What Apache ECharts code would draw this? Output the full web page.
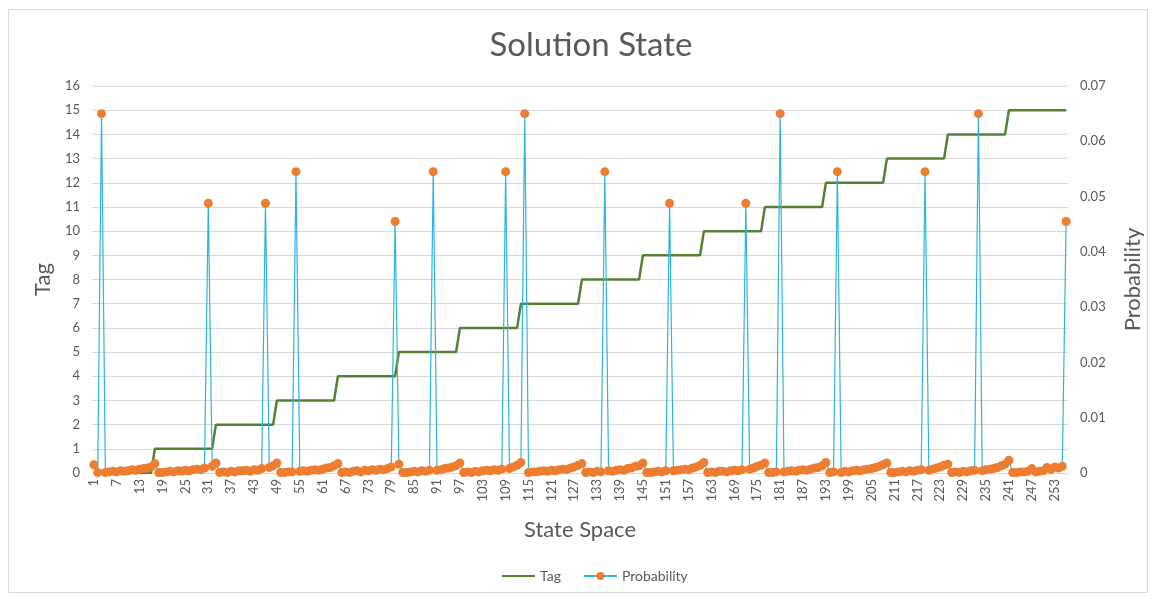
<!DOCTYPE html>
<html>
<head>
<meta charset="utf-8">
<title>Solution State</title>
<script src="https://cdn.jsdelivr.net/npm/echarts@6/dist/echarts.min.js"></script>
<style>
  html, body { margin: 0; padding: 0; background: #fff; }
  #chart { width: 1156px; height: 600px; }
</style>
</head>
<body>
<div id="chart"></div>
<script>
// state space 1..256
const states = [];
for (let i = 1; i <= 256; i++) states.push(String(i));

// tag level for each state (16 states per tag)
const tag = [
  0,0,0,0,0,0,0,0,0,0,0,0,0,0,0,0,
  1,1,1,1,1,1,1,1,1,1,1,1,1,1,1,1,
  2,2,2,2,2,2,2,2,2,2,2,2,2,2,2,2,
  3,3,3,3,3,3,3,3,3,3,3,3,3,3,3,3,
  4,4,4,4,4,4,4,4,4,4,4,4,4,4,4,4,
  5,5,5,5,5,5,5,5,5,5,5,5,5,5,5,5,
  6,6,6,6,6,6,6,6,6,6,6,6,6,6,6,6,
  7,7,7,7,7,7,7,7,7,7,7,7,7,7,7,7,
  8,8,8,8,8,8,8,8,8,8,8,8,8,8,8,8,
  9,9,9,9,9,9,9,9,9,9,9,9,9,9,9,9,
  10,10,10,10,10,10,10,10,10,10,10,10,10,10,10,10,
  11,11,11,11,11,11,11,11,11,11,11,11,11,11,11,11,
  12,12,12,12,12,12,12,12,12,12,12,12,12,12,12,12,
  13,13,13,13,13,13,13,13,13,13,13,13,13,13,13,13,
  14,14,14,14,14,14,14,14,14,14,14,14,14,14,14,14,
  15,15,15,15,15,15,15,15,15,15,15,15,15,15,15,15
];

// probability of each state
const probability = [
  0.0015,0.0001,0.0650,0.0001,0.0002,0.0003,0.0002,0.0004,0.0003,0.0004,0.0006,0.0005,0.0007,0.0008,0.0009,0.0011,
  0.0017,0.0001,0.0001,0.0002,0.0003,0.0002,0.0004,0.0003,0.0005,0.0004,0.0006,0.0007,0.0006,0.0009,0.0488,0.0012,
  0.0018,0.0001,0.0002,0.0001,0.0003,0.0002,0.0004,0.0004,0.0005,0.0003,0.0006,0.0005,0.0008,0.0488,0.0010,0.0013,
  0.0018,0.0001,0.0001,0.0002,0.0002,0.0545,0.0003,0.0004,0.0003,0.0005,0.0006,0.0005,0.0007,0.0009,0.0010,0.0013,
  0.0017,0.0001,0.0002,0.0001,0.0003,0.0004,0.0002,0.0005,0.0004,0.0006,0.0005,0.0007,0.0006,0.0008,0.0011,0.0455,
  0.0016,0.0001,0.0001,0.0002,0.0003,0.0002,0.0004,0.0003,0.0005,0.0545,0.0005,0.0006,0.0008,0.0009,0.0011,0.0013,
  0.0018,0.0001,0.0002,0.0001,0.0003,0.0002,0.0004,0.0005,0.0004,0.0006,0.0005,0.0007,0.0545,0.0008,0.0011,0.0014,
  0.0019,0.0650,0.0001,0.0002,0.0002,0.0003,0.0004,0.0003,0.0005,0.0004,0.0006,0.0007,0.0006,0.0009,0.0011,0.0014,
  0.0017,0.0001,0.0002,0.0001,0.0003,0.0002,0.0545,0.0004,0.0003,0.0005,0.0006,0.0005,0.0008,0.0009,0.0012,0.0013,
  0.0018,0.0001,0.0001,0.0002,0.0003,0.0002,0.0004,0.0488,0.0004,0.0005,0.0006,0.0007,0.0006,0.0009,0.0011,0.0014,
  0.0019,0.0001,0.0002,0.0001,0.0003,0.0003,0.0002,0.0004,0.0005,0.0004,0.0006,0.0488,0.0007,0.0009,0.0012,0.0014,
  0.0018,0.0001,0.0001,0.0002,0.0650,0.0002,0.0003,0.0004,0.0003,0.0005,0.0006,0.0005,0.0007,0.0009,0.0010,0.0013,
  0.0019,0.0001,0.0002,0.0545,0.0001,0.0003,0.0002,0.0004,0.0005,0.0004,0.0006,0.0007,0.0008,0.0010,0.0012,0.0015,
  0.0018,0.0001,0.0001,0.0002,0.0003,0.0002,0.0004,0.0003,0.0005,0.0006,0.0545,0.0005,0.0007,0.0009,0.0011,0.0014,
  0.0016,0.0001,0.0002,0.0001,0.0003,0.0002,0.0004,0.0005,0.0650,0.0004,0.0006,0.0007,0.0008,0.0010,0.0013,0.0016,
  0.0023,0.0001,0.0001,0.0002,0.0002,0.0003,0.0008,0.0002,0.0003,0.0004,0.0010,0.0006,0.0011,0.0009,0.0012,0.0455
];

const textColor = '#595959';
const font = 'Lato, "Open Sans", sans-serif';

const chart = echarts.init(document.getElementById('chart'), null, { renderer: 'canvas' });

const option = {
  animation: false,
  textStyle: { fontFamily: font },
  graphic: [{
    type: 'rect',
    shape: { x: 8.5, y: 9.5, width: 1139, height: 583 },
    style: { fill: 'none', stroke: '#d9d9d9', lineWidth: 1 },
    silent: true
  }],
  title: {
    text: 'Solution State',
    left: 586,
    textAlign: 'center',
    top: 24,
    textStyle: { fontSize: 33, fontWeight: 'normal', color: textColor, fontFamily: font }
  },
  legend: {
    bottom: 12,
    left: 496,
    itemWidth: 33,
    itemHeight: 10,
    itemGap: 22,
    textStyle: { fontSize: 14, color: textColor, fontFamily: font },
    data: [
      { name: 'Tag', itemStyle: { opacity: 0 } },
      { name: 'Probability' }
    ]
  },
  grid: { left: 92, right: 88, top: 86, bottom: 127 },
  xAxis: {
    type: 'category',
    data: states,
    boundaryGap: true,
    name: 'State Space',
    nameLocation: 'middle',
    nameGap: 46,
    nameTextStyle: { fontSize: 22, color: textColor },
    axisTick: { show: false },
    axisLine: { lineStyle: { color: '#d9d9d9' } },
    axisLabel: { interval: 5, rotate: 90, fontSize: 13, color: textColor, margin: 6 }
  },
  yAxis: [
    {
      type: 'value',
      min: 0,
      max: 16,
      interval: 1,
      name: 'Tag',
      nameLocation: 'middle',
      nameRotate: 90,
      nameGap: 36,
      nameTextStyle: { fontSize: 22, color: textColor },
      axisLine: { show: false },
      axisTick: { show: false },
      axisLabel: { fontSize: 13, color: textColor, margin: 12 },
      splitLine: { lineStyle: { color: '#d9d9d9' } }
    },
    {
      type: 'value',
      min: 0,
      max: 0.07,
      interval: 0.01,
      name: 'Probability',
      nameLocation: 'middle',
      nameRotate: 90,
      nameGap: 54,
      nameTextStyle: { fontSize: 22, color: textColor },
      axisLine: { show: false },
      axisTick: { show: false },
      axisLabel: {
        fontSize: 13, color: textColor, margin: 12,
        formatter: v => v === 0 ? '0' : v.toFixed(2)
      },
      splitLine: { show: false }
    }
  ],
  series: [
    {
      name: 'Tag',
      type: 'line',
      yAxisIndex: 0,
      data: tag,
      symbol: 'none',
      itemStyle: { color: '#548235' },
      lineStyle: { color: '#548235', width: 2.5 }
    },
    {
      name: 'Probability',
      type: 'line',
      yAxisIndex: 1,
      data: probability,
      symbol: 'circle',
      symbolSize: 9,
      showAllSymbol: true,
      itemStyle: { color: '#ED7D31' },
      lineStyle: { color: '#2EB4DF', width: 1.2 }
    }
  ]
};

chart.setOption(option);
</script>
</body>
</html>
